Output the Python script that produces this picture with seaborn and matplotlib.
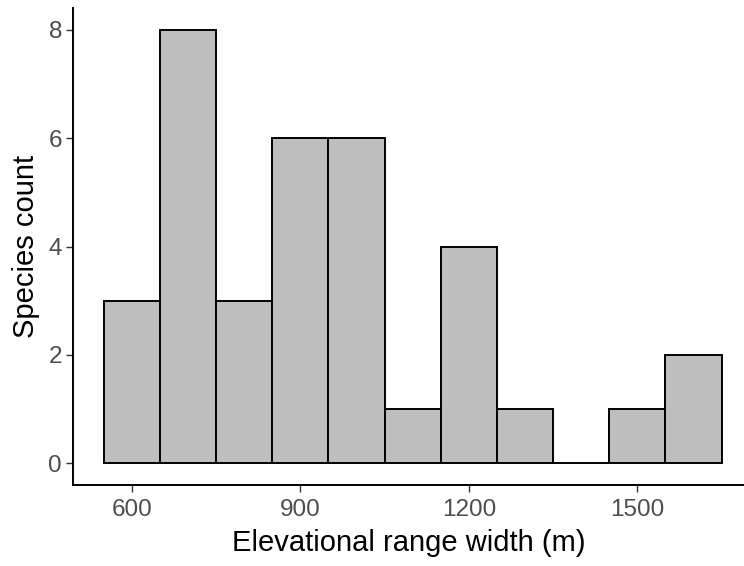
import matplotlib
matplotlib.use("Agg")
import matplotlib.pyplot as plt
import seaborn as sns
import numpy as np
import pandas as pd

bin_centers = [600, 700, 800, 900, 1000, 1100, 1200, 1300, 1400, 1500, 1600]
counts = [3, 8, 3, 6, 6, 1, 4, 1, 0, 1, 2]
x_ticks = [600, 900, 1200, 1500]
y_ticks = [0, 2, 4, 6, 8]

sns.set_theme(style="ticks")
plt.rcParams['font.family'] = ['Liberation Sans', 'DejaVu Sans']

df = pd.DataFrame({"width": bin_centers, "count": counts})
edges = [float(e) for e in np.arange(550, 1651, 100)]

fig = plt.figure(figsize=(7.44, 5.66), dpi=100)
ax = fig.add_axes([73/744, 81/566, 1 - 73/744, (485-8)/566])

sns.histplot(data=df, x="width", weights="count", bins=edges, ax=ax,
             color="#BEBEBE", edgecolor="black", linewidth=1.4, alpha=1)

ax.set_xlim(495, 1690)
ax.set_ylim(-0.4, 8.4)
ax.set_xticks(x_ticks)
ax.set_yticks(y_ticks)
ax.set_xlabel("Elevational range width (m)", fontsize=21, color="black", labelpad=6)
ax.set_ylabel("Species count", fontsize=21, color="black", labelpad=6)
ax.tick_params(axis="both", labelsize=17.5, labelcolor="#4D4D4D", color="#333333",
               length=5, width=1.0)
ax.tick_params(axis="x", pad=5)
ax.tick_params(axis="y", pad=3)
for s in ["top", "right"]:
    ax.spines[s].set_visible(False)
for s in ["left", "bottom"]:
    ax.spines[s].set_linewidth(1.4)
    ax.spines[s].set_color("black")

fig.savefig("out.png", dpi=100)
